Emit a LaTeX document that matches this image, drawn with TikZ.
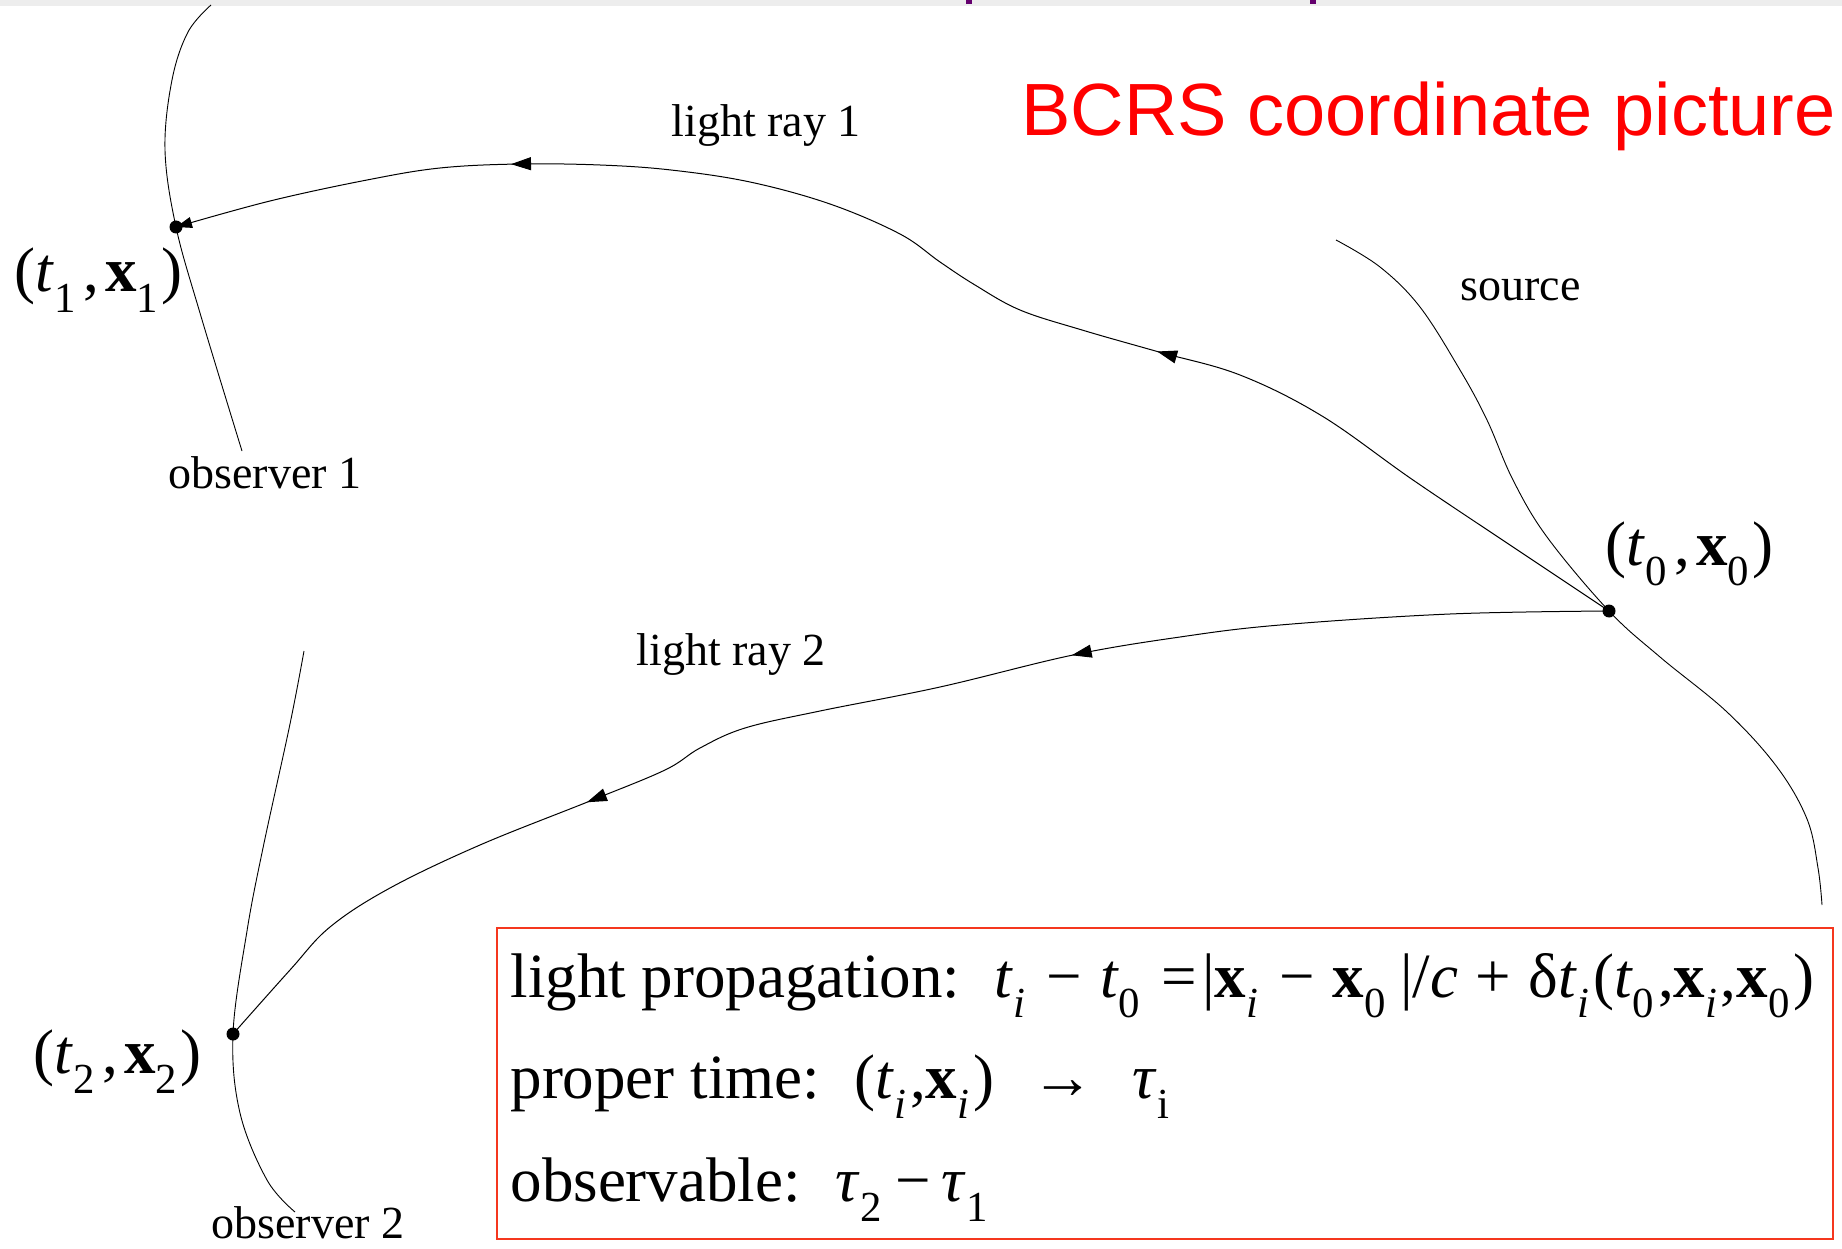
\documentclass[tikz,border=0pt]{standalone}
\usepackage{fontspec}
\setmainfont{Liberation Serif}
\newfontfamily\titlefont{Liberation Sans}
\usepackage{graphicx}
\usetikzlibrary{arrows.meta,decorations.markings}
\newcommand\SB[1]{\raisebox{-0.33em}{\scalebox{0.68}{#1}}}
\newcommand\SBb[1]{\raisebox{-0.33em}{\scalebox{0.68}{#1}}\hspace{0.06em}}
\newcommand\OPs[1]{\hspace{0.28em}#1\hspace{0.28em}}
\newcommand\Tv{\textit{t}}
\newcommand\Xv{\textbf{x}}
\newcommand\Iv{\textit{i}}
\definecolor{boxred}{RGB}{245,55,30}
\definecolor{titlepurple}{RGB}{100,0,110}
\begin{document}
\begin{tikzpicture}[x=1pt,y=-1pt,line width=1pt,
  lbl/.style={inner sep=0pt,anchor=base west,font=\fontsize{46}{55}\selectfont},
  coordlbl/.style={inner sep=0pt,anchor=base west,font=\fontsize{63}{75}\selectfont},
  boxtxt/.style={inner sep=0pt,anchor=base west,font=\fontsize{63}{75}\selectfont},
  worldline/.style={line width=0.9pt},
  ray/.style={line width=1pt},
  dotc/.style={fill=black}
]
\useasboundingbox (0,0) rectangle (1842,1249);
\fill[white] (0,0) rectangle (1842,1249);
% cropped title band
\fill[gray!14] (0,0) rectangle (1842,6);
\fill[titlepurple] (966,0) rectangle (972,4);
\fill[titlepurple] (1310,0) rectangle (1316,4);

\coordinate (p0) at (1609,611);
\coordinate (p1) at (176,227);
\coordinate (p2) at (233,1034);

% world lines
\draw[worldline] plot[smooth,tension=0.6] coordinates {(211,5) (188,32) (172,80) (165,150) (p1) (200,313) (242,451)};
\draw[worldline] plot[smooth,tension=0.6] coordinates {(304,651) (290,724) (263,848) (247,931) (p2) (240,1113) (267,1180) (295,1212)};
\draw[worldline] plot[smooth,tension=0.6] coordinates {(1336,240) (1380,267) (1420,307) (1460,370) (1487,420) (1513,480) (1547,537) (p0) (1660,657) (1727,712) (1777,767) (1807,819) (1818,868) (1822,905)};

% light ray 1
\draw[ray,-{Triangle[length=16pt,width=11pt]},
  decoration={markings,
    mark=at position 525pt with {\arrow{Triangle[length=20pt,width=13pt]}},
    mark=at position 1210pt with {\arrow{Triangle[length=20pt,width=13pt]}}},
  postaction=decorate]
  plot[smooth,tension=0.6] coordinates {(p0) (1513,547) (1413,480) (1322,416) (1240,375) (1159,352) (1082,330) (1020,310) (975,285) (940,262) (900,234) (830,204) (750,182) (671,170) (600,165) (519,164) (440,168) (367,180) (270,201) (p1)};

% light ray 2
\draw[ray,
  decoration={markings,
    mark=at position 540pt with {\arrow{Triangle[length=20pt,width=13pt]}},
    mark=at position 1050pt with {\arrow{Triangle[length=20pt,width=13pt]}}},
  postaction=decorate]
  plot[smooth,tension=0.6] coordinates {(p0) (1450,614) (1280,625) (1180,637) (1073,655) (940,687) (820,711) (745,728) (700,748) (665,770) (590,801) (480,845) (390,888) (330,927) (290,970) (p2)};

% event points
\fill[dotc] (p0) circle (6.5);
\fill[dotc] (p1) circle (6.5);
\fill[dotc] (p2) circle (6.5);

% labels
\node[coordlbl] (e1) at (14,292) {(\Tv\SB{1}\hspace{0.12em},\hspace{0.1em}\Xv\SB{1}\hspace{0.05em})};
\node[coordlbl] (e0) at (1605,565) {(\Tv\SB{0}\hspace{0.12em},\hspace{0.1em}\Xv\SB{0}\hspace{0.05em})};
\node[coordlbl] (e2) at (33,1073) {(\Tv\SB{2}\hspace{0.12em},\hspace{0.1em}\Xv\SB{2}\hspace{0.05em})};

\node[lbl] (lr1) at (671,137) {light ray 1};
\node[lbl] (lr2) at (636,665) {light ray 2};
\node[lbl] (src) at (1460,301) {source};
\node[lbl] (ob1) at (168,488) {observer 1};
\node[lbl] (ob2) at (211,1238) {observer 2};

\node[inner sep=0pt,anchor=base west,text=red,font=\titlefont\fontsize{74}{88}\selectfont] (title) at (1021,136) {BCRS coordinate picture};

% formula box
\draw[boxred,line width=2.5pt] (497,928) rectangle (1833,1239);
\node[boxtxt] (l1) at (510,997) {light propagation:\hspace{0.55em}\Tv\SBb{\Iv}\OPs{−}\Tv\SBb{0}\OPs{=}\hspace{-0.2em}|\Xv\SBb{\Iv}\OPs{−}\Xv\SBb{0}\,|/\textit{c}\OPs{+}δ\Tv\SBb{\Iv}(\Tv\SBb{0},\Xv\SBb{\Iv},\Xv\SBb{0})};
\node[boxtxt] (l2) at (510,1098) {proper time:\hspace{0.55em}(\Tv\SBb{\Iv},\Xv\SBb{\Iv})\hspace{0.6em}→\hspace{0.6em}\textit{τ}\SB{i}};
\node[boxtxt] (l3) at (510,1201) {observable:\hspace{0.55em}\textit{τ}\SBb{2}\,−\,\textit{τ}\SB{1}};
\end{tikzpicture}
\end{document}
